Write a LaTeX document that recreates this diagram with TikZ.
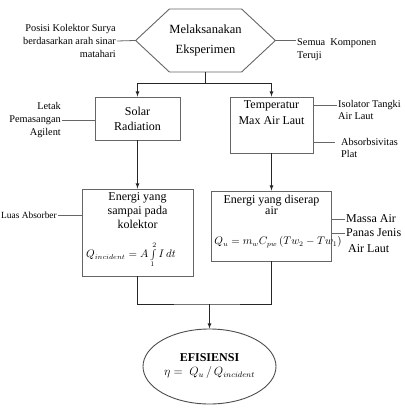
\documentclass[tikz,border=0pt]{standalone}
\usepackage{fontspec}
\setmainfont{Liberation Serif}
\usetikzlibrary{shapes.geometric,shapes.symbols}

\tikzset{
  sidenote/.style={font=\fontsize{10.3}{13}\selectfont, inner sep=1pt},
  boxnote/.style={font=\fontsize{12}{14}\selectfont, inner sep=1pt},
  block/.style={draw=black!60, line width=0.9pt, rectangle},
  link/.style={black!85, line width=0.8pt},
  tick/.style={black!60, line width=0.8pt},
}

\begin{document}
\begin{tikzpicture}[x=1pt,y=-1pt,>=latex]
  \useasboundingbox (0,0) rectangle (404,420);
  % main steps
  \node[draw=black!60, line width=0.9pt, shape=signal, signal to=west and east, signal pointer angle=86,
        minimum width=131pt, minimum height=63pt, inner sep=0pt, align=center,
        font=\fontsize{12.5}{20}\selectfont] (hex) at (205.5,40.5) {Melaksanakan\\Eksperimen};
  \node[block, boxnote, align=center, minimum width=85pt, minimum height=43pt, font=\fontsize{12}{15}\selectfont] (solar) at (137.5,118.5) {Solar\\Radiation};
  \node[block, minimum width=83pt, minimum height=56pt] (temp) at (271.5,125) {};
  \node[boxnote, align=center, anchor=north, font=\fontsize{12}{16}\selectfont] (tempT) at ([yshift=-3pt]temp.north) {Temperatur\\Max Air Laut};
  \node[block, minimum width=111pt, minimum height=87pt] (enA) at (137.5,232.5) {};
  \node[boxnote, align=center, anchor=north] (enAT) at ([yshift=-3pt]enA.north) {Energi yang\\sampai pada\\kolektor};
  \node[inner sep=0pt, font=\fontsize{10.5}{12}\selectfont] (enAF) at (131,255) {$Q_{incident} = A\int\limits_1^2 I\,dt$};
  \node[block, minimum width=120pt, minimum height=70pt] (enB) at (271.5,226) {};
  \node[boxnote, align=center, anchor=north, font=\fontsize{12}{11.5}\selectfont] (enBT) at ([yshift=-3pt]enB.north) {Energi yang diserap\\air};
  \node[inner sep=0pt, font=\fontsize{10.5}{12}\selectfont] (enBF) at (278,242) {$Q_u = m_w C_{pw}\left(Tw_2 - Tw_1\right)$};
  \node[draw=black!70, line width=0.9pt, ellipse, minimum width=133pt, minimum height=75pt, inner sep=0pt,
        align=center, font=\fontsize{12}{14}\selectfont] (eff) at (209.5,366.5) {\textbf{EFISIENSI}\\$\eta= \;Q_u \,/\, Q_{incident}$};

  % flow
  \draw[link] (hex.south) -- ++(0,11) coordinate (split);
  \draw[link,->] (split) -| (solar.north);
  \draw[link,->] (split) -| (temp.north);
  \draw[link,->] (solar.south) -- (enA.north);
  \draw[link,->] (temp.south) -- (enB.north);
  \coordinate (merge) at (209.5,304);
  \draw[link] (enA.south) |- (merge) -| (enB.south);
  \draw[link,->] (merge) -- (eff.north);

  % notes
  \node[sidenote, anchor=east, align=right] (posisi) at (117,41) {Posisi Kolektor Surya\\berdasarkan arah sinar\\matahari};
  \draw[tick] (posisi.east) -- (hex.west);
  \node[sidenote, anchor=west] (semua) at (296,43) {Semua\ \ Komponen};
  \node[sidenote, anchor=base west] (teruji) at ([yshift=-13pt]semua.base west) {Teruji};
  \draw[tick] (hex.east) -- (hex.east -| semua.west);
  \node[sidenote, anchor=east, align=right] (letak) at (62,120) {Letak\\Pemasangan\\Agilent};
  \draw[tick] (letak.east) -- (letak.east -| solar.west);
  \node[sidenote, anchor=west] (isol) at (337,105) {Isolator Tangki};
  \node[sidenote, anchor=base west] (isol2) at ([yshift=-12pt]isol.base west) {Air Laut};
  \draw[tick] (isol.west -| temp.east) -- (isol.west);
  \node[sidenote, anchor=west] (absorb) at (340,142) {Absorbsivitas};
  \node[sidenote, anchor=base west] (plat) at ([yshift=-12pt]absorb.base west) {Plat};
  \draw[tick, shorten >=5pt] (absorb.west -| temp.east) -- (absorb.west);
  \node[sidenote, anchor=east, font=\fontsize{9.4}{12}\selectfont] (luas) at (58,215) {Luas Absorber};
  \draw[tick] (luas.east) -- (luas.east -| enA.west);
  \node[boxnote, anchor=west] (massa) at (345,219) {Massa Air};
  \node[boxnote, anchor=west] (panas) at (345,233) {Panas Jenis};
  \node[boxnote, anchor=west] (airlaut) at (347,249) {Air Laut};
  \draw[tick] (massa.west -| enB.east) -- (massa.west);
  \draw[tick] (panas.west -| enB.east) -- (panas.west);
\end{tikzpicture}
\end{document}
